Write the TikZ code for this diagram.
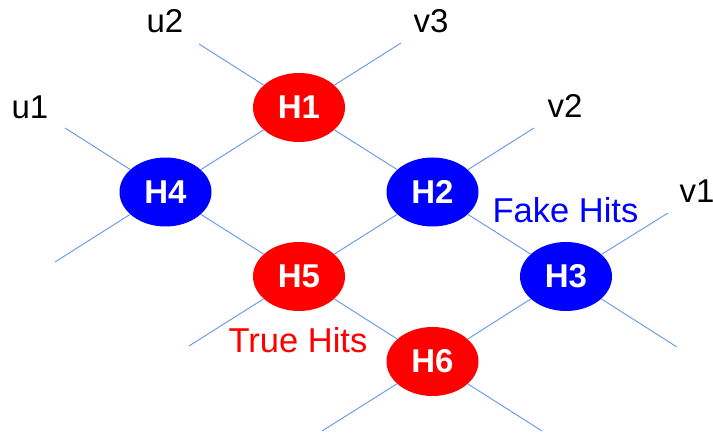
\documentclass[tikz,border=0pt]{standalone}
\usepackage{fontspec}
\setmainfont{Liberation Sans}
\usetikzlibrary{shapes.geometric}
\definecolor{linec}{RGB}{100,149,237}
\definecolor{hred}{RGB}{255,0,0}
\definecolor{hblue}{RGB}{0,0,255}
\begin{document}
\begin{tikzpicture}[x=1pt,y=-1pt,
  hit/.style={ellipse, minimum width=92pt, minimum height=69pt, inner sep=0pt, text=white, font=\fontsize{33}{38}\selectfont\bfseries},
  truehit/.style={hit, fill=hred},
  fakehit/.style={hit, fill=hblue},
  wire/.style={draw=linec, line width=0.9pt},
  lbl/.style={font=\fontsize{33}{38}\selectfont, inner sep=0pt},
  hitlbl/.style={font=\fontsize{34.5}{40}\selectfont, inner sep=0pt}]
\useasboundingbox (0,0) rectangle (713,435);
% hits
\node[truehit] (H1) at (299,107.5) {H1};
\node[fakehit] (H4) at (165.5,192) {H4};
\node[fakehit] (H2) at (432.5,192) {H2};
\node[truehit] (H5) at (299,276.5) {H5};
\node[fakehit] (H3) at (566,276.5) {H3};
\node[truehit] (H6) at (432.5,361.5) {H6};
% free ends
\coordinate (a1) at (199,44);  \coordinate (a2) at (677,347);
\coordinate (b1) at (65,128);  \coordinate (b2) at (542,431);
\coordinate (c1) at (401,43);  \coordinate (c2) at (55,262);
\coordinate (d1) at (534,128); \coordinate (d2) at (189,346);
\coordinate (e1) at (668,213); \coordinate (e2) at (322,431);
% tracks
\draw[wire] (a1) -- (H1); \draw[wire] (H1) -- (H2); \draw[wire] (H2) -- (H3); \draw[wire] (H3) -- (a2);
\draw[wire] (b1) -- (H4); \draw[wire] (H4) -- (H5); \draw[wire] (H5) -- (H6); \draw[wire] (H6) -- (b2);
\draw[wire] (c1) -- (H1); \draw[wire] (H1) -- (H4); \draw[wire] (H4) -- (c2);
\draw[wire] (d1) -- (H2); \draw[wire] (H2) -- (H5); \draw[wire] (H5) -- (d2);
\draw[wire] (e1) -- (H3); \draw[wire] (H3) -- (H6); \draw[wire] (H6) -- (e2);
% labels
\node[lbl] (lu2) at (165,21) {u2};
\node[lbl] (lv3) at (431,21) {v3};
\node[lbl] (lu1) at (30,107) {u1};
\node[lbl] (lv2) at (565,106) {v2};
\node[lbl] (lv1) at (697,191) {v1};
\node[hitlbl, text=hblue] (fake) at (565.5,210) {Fake Hits};
\node[hitlbl, text=hred] (true) at (298,340) {True Hits};
\end{tikzpicture}
\end{document}
